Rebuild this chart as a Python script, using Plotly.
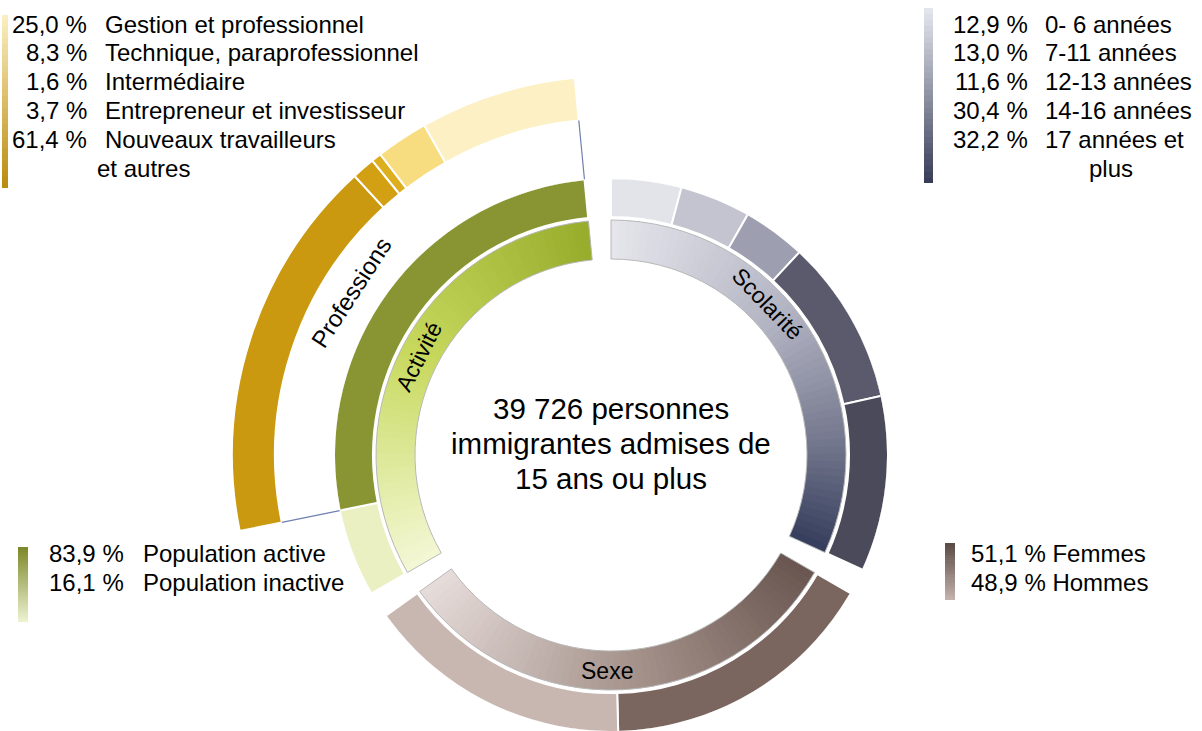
import numpy as np
import plotly.graph_objects as go

# ---------------- data ----------------
center_text = ["39 726 personnes", "immigrantes admises de", "15 ans ou plus"]
sector_names = ["Scolarité", "Sexe", "Activité"]          # clockwise from top

activite_labels = ["Population active", "Population inactive"]
activite_pct = [83.9, 16.1]
scolarite_labels = ["0- 6 années", "7-11 années", "12-13 années", "14-16 années", "17 années et plus"]
scolarite_pct = [12.9, 13.0, 11.6, 30.4, 32.2]
sexe_labels = ["Femmes", "Hommes"]
sexe_pct = [51.1, 48.9]
professions_labels = ["Gestion et professionnel", "Technique, paraprofessionnel", "Intermédiaire",
                      "Entrepreneur et investisseur", "Nouveaux travailleurs et autres"]
professions_pct = [25.0, 8.3, 1.6, 3.7, 61.4]

# ---------------- style / geometry ----------------
W, H = 1202, 731
CX, CY = 611, 455            # centre of the rings (px)
R_DOM = 276                  # main polar radius in px (1 radial unit = 1 px)
R_DOM2 = 382                 # professions polar radius in px
SECTOR_START = {"Scolarité": 0.0, "Sexe": 120.0, "Activité": 240.0}
SECTOR_SPAN = 114.5
R_INNER = (196, 235)
R_OUTER = (238, 277)
R_PROF = (336, 379)
FONT = "Liberation Sans, Arial, sans-serif"

activite_colors = ["#889532", "#EAF0C2"]
scolarite_colors = ["#E3E4EA", "#C3C4CF", "#9D9EAF", "#5A5A6C", "#4A4A5A"]
sexe_colors = ["#7A655F", "#C8B7B1"]
professions_colors = ["#FCF0C4", "#F8DD80", "#DDAE1E", "#D4A013", "#CA990F"]

gradient_stops = {
    "Activité": [(0, "#F4F8D6"), (0.5, "#C8D95E"), (1, "#98AC2C")],
    "Scolarité": [(0, "#E6E6EC"), (0.45, "#B2B3C2"), (0.75, "#76798F"), (1, "#353D5C")],
    "Sexe": [(0, "#6A5650"), (0.5, "#A8968F"), (1, "#E6DCDA")],
}


def hex2rgb(h):
    h = h.lstrip("#")
    return np.array([int(h[i:i + 2], 16) for i in (0, 2, 4)], float)


def interp_color(stops, t):
    for (t0, c0), (t1, c1) in zip(stops[:-1], stops[1:]):
        if t <= t1:
            f = 0 if t1 == t0 else (t - t0) / (t1 - t0)
            c = hex2rgb(c0) * (1 - f) + hex2rgb(c1) * f
            return "rgb(%d,%d,%d)" % tuple(np.round(c))
    c = hex2rgb(stops[-1][1])
    return "rgb(%d,%d,%d)" % tuple(c)


def segments(start, span, pcts):
    p = np.asarray(pcts, float)
    w = p / p.sum() * span
    s = start + np.concatenate([[0.0], np.cumsum(w)[:-1]])
    return s + w / 2, w


fig = go.Figure()

# ---- inner rings (one per sector, gradient shading) ----
NSL = 60
for name in sector_names:
    st = SECTOR_START[name]
    en = st + SECTOR_SPAN
    edges = np.linspace(st, en, NSL + 1)
    a0 = edges[:-1]
    a1 = np.minimum(edges[1:] + 0.35, en)
    cols = [interp_color(gradient_stops[name], (0.5 * (x0 + x1) - st) / SECTOR_SPAN) for x0, x1 in zip(a0, a1)]
    fig.add_trace(go.Barpolar(
        r=[R_INNER[1] - R_INNER[0]] * NSL, base=R_INNER[0],
        theta=(a0 + a1) / 2, width=a1 - a0,
        marker=dict(color=cols, line=dict(width=0)),
        hoverinfo="skip", subplot="polar"))
    fig.add_trace(go.Barpolar(
        r=[R_INNER[1] - R_INNER[0]], base=R_INNER[0],
        theta=[st + SECTOR_SPAN / 2], width=[SECTOR_SPAN],
        marker=dict(color="rgba(0,0,0,0)", line=dict(color="#B8B8B8", width=1)),
        hovertext=[name], hoverinfo="text", subplot="polar"))

# ---- outer rings (sub-categories) ----
outer_sets = {
    "Activité": (activite_labels[::-1], activite_pct[::-1], activite_colors[::-1]),
    "Scolarité": (scolarite_labels, scolarite_pct, scolarite_colors),
    "Sexe": (sexe_labels, sexe_pct, sexe_colors),
}
active_span = None
for name in sector_names:
    labs, pcts, cols = outer_sets[name]
    th, wd = segments(SECTOR_START[name], SECTOR_SPAN, pcts)
    fig.add_trace(go.Barpolar(
        r=[R_OUTER[1] - R_OUTER[0]] * len(pcts), base=R_OUTER[0],
        theta=th, width=wd,
        marker=dict(color=cols, line=dict(color="white", width=2)),
        hovertext=["%s : %.1f %%" % (l, v) for l, v in zip(labs, pcts)], hoverinfo="text",
        subplot="polar"))
    if name == "Activité":
        i_act = labs.index("Population active")
        active_span = (th[i_act] - wd[i_act] / 2, wd[i_act])

# ---- professions ring (breakdown of the active population), own polar sector ----
pth, pwd = segments(active_span[0], active_span[1], professions_pct[::-1])
fig.add_trace(go.Barpolar(
    r=[R_PROF[1] - R_PROF[0]] * len(professions_pct), base=R_PROF[0],
    theta=pth, width=pwd,
    marker=dict(color=professions_colors[::-1], line=dict(color="white", width=2)),
    hovertext=["%s : %.1f %%" % (l, v) for l, v in zip(professions_labels[::-1], professions_pct[::-1])],
    hoverinfo="text", subplot="polar2"))

for ang in (active_span[0], active_span[0] + active_span[1]):
    fig.add_trace(go.Scatterpolar(
        r=[R_OUTER[1], R_PROF[0]], theta=[ang, ang], mode="lines",
        line=dict(color="#6F7FAF", width=1.2), hoverinfo="skip", subplot="polar2"))

# ---------------- text ----------------
ann = []


def px(x, y):
    return x / W, 1 - y / H


def ring_label(text, r, ang, rot, size=23):
    x = CX + r * np.sin(np.radians(ang))
    y = CY - r * np.cos(np.radians(ang))
    xx, yy = px(x, y)
    ann.append(dict(x=xx, y=yy, xref="paper", yref="paper", text=text, showarrow=False,
                    textangle=rot, xanchor="center", yanchor="middle",
                    font=dict(family=FONT, size=size, color="black")))


ring_label("Activité", 216, 297, -63)
ring_label("Scolarité", 218, 46, 46)
ring_label("Sexe", 216, 181, 0)
ring_label("Professions", 306, 302, -57, 24)

for i, line in enumerate(center_text):
    xx, yy = px(CX, 408 + 35 * i)
    ann.append(dict(x=xx, y=yy, xref="paper", yref="paper", text=line, showarrow=False,
                    xanchor="center", yanchor="middle", font=dict(family=FONT, size=29.5, color="black")))


def txt(x, y, t, anchor="left", size=24):
    xx, yy = px(x, y)
    ann.append(dict(x=xx, y=yy, xref="paper", yref="paper", text=t, showarrow=False,
                    xanchor=anchor, yanchor="middle", font=dict(family=FONT, size=size, color="black")))


def pct(v):
    return ("%.1f" % v).replace(".", ",") + " %"


# legend: professions (top-left)
rows = [24, 53, 81, 110, 139]
for yv, lab, v in zip(rows, professions_labels, professions_pct):
    txt(89, yv, pct(v), "right")
    if lab.startswith("Nouveaux"):
        txt(103, yv, "Nouveaux travailleurs")
        txt(95, 168, "et autres")
    else:
        txt(103, yv, lab)

# legend: scolarité (top-right)
for yv, lab, v in zip(rows, scolarite_labels, scolarite_pct):
    txt(1030, yv, pct(v), "right")
    if lab.startswith("17"):
        txt(1043, yv, "17 années et")
        txt(1111, 168, "plus", "center")
    else:
        txt(1043, yv, lab)

# legend: activité (bottom-left)
for yv, lab, v in zip([553, 582], activite_labels, activite_pct):
    txt(126, yv, pct(v), "right")
    txt(141, yv, lab)

# legend: sexe (bottom-right)
for yv, lab, v in zip([553, 582], sexe_labels, sexe_pct):
    txt(969, yv, pct(v) + " " + lab)

# gradient strips for legends
shapes = []


def strip(x0, x1, y0, y1, c_top, c_bot, n=30):
    ys = np.linspace(y0, y1, n + 1)
    for k in range(n):
        t = (k + 0.5) / n
        col = interp_color([(0, c_top), (1, c_bot)], t)
        shapes.append(dict(type="rect", xref="paper", yref="paper",
                           x0=x0 / W, x1=x1 / W, y0=1 - ys[k] / H, y1=1 - min(ys[k + 1] + 0.6, y1) / H,
                           fillcolor=col, line=dict(width=0), layer="below"))


strip(2, 8, 15, 188, "#FBEFC2", "#B98A0C")
strip(924, 933, 8, 183, "#E6E8EF", "#363B55")
strip(18, 28, 547, 622, "#7C8728", "#EEF3D2")
strip(945, 955, 543, 600, "#5A4A44", "#C4B2AC")

# professions polar: sector (math angles, ccw from east) holding the upper-left quadrant
SEC2 = [90, 195]
low2 = -np.sin(np.radians(SEC2[1] - 180))   # bbox lower bound (fraction of radius)

common_axes = dict(
    bgcolor="rgba(0,0,0,0)",
    barmode="overlay",
    angularaxis=dict(rotation=90, direction="clockwise", visible=False, showgrid=False,
                     thetaunit="degrees"),
)

fig.update_layout(
    width=W, height=H,
    margin=dict(l=0, r=0, t=0, b=0),
    paper_bgcolor="white",
    showlegend=False,
    annotations=ann,
    shapes=shapes,
    polar=dict(
        domain=dict(x=[(CX - R_DOM) / W, (CX + R_DOM) / W],
                    y=[1 - (CY + R_DOM) / H, 1 - (CY - R_DOM) / H]),
        radialaxis=dict(range=[0, R_DOM], visible=False, showgrid=False),
        **common_axes,
    ),
    polar2=dict(
        sector=SEC2,
        domain=dict(x=[(CX - R_DOM2) / W, CX / W],
                    y=[1 - (CY - low2 * R_DOM2) / H, 1 - (CY - R_DOM2) / H]),
        radialaxis=dict(range=[0, R_DOM2], visible=False, showgrid=False),
        **common_axes,
    ),
)

fig.write_html("out.html", config={"displayModeBar": False},
               post_script="document.body.style.margin='0px';")
